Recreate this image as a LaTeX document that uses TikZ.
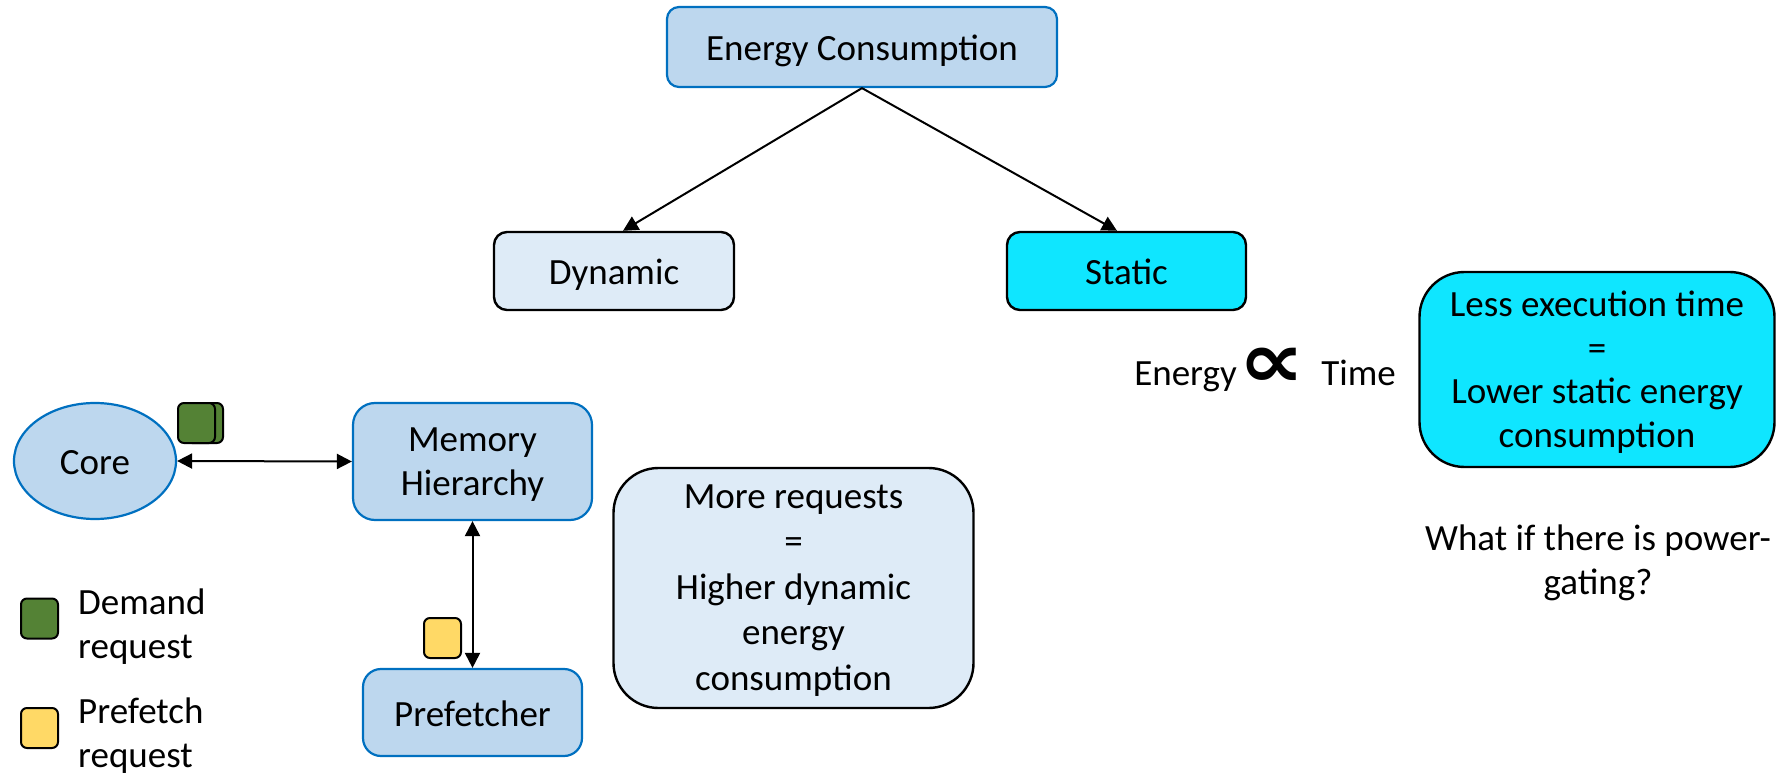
\documentclass[tikz,border=0pt]{standalone}
\usepackage{fontspec}
\setmainfont{Carlito}
\newfontfamily\symfont{DejaVu Sans}
\usetikzlibrary{arrows.meta,shapes.geometric,calc}

\definecolor{nodeblue}{RGB}{189,215,238}
\definecolor{edgeblue}{RGB}{0,112,192}
\definecolor{paleblue}{RGB}{222,235,247}
\definecolor{brightcyan}{RGB}{15,230,255}
\definecolor{reqgreen}{RGB}{84,130,53}
\definecolor{reqyellow}{RGB}{255,217,102}

\begin{document}
\begin{tikzpicture}[x=1pt,y=-1pt,
  txt/.style={font=\fontsize{37}{44}\selectfont, inner sep=0pt, align=center},
  oneline/.style={text height=27pt, text depth=0pt},
  bluebox/.style={txt, draw=edgeblue, fill=nodeblue, line width=2.2pt},
  palebox/.style={txt, draw=black, fill=paleblue, line width=2.4pt},
  cyanbox/.style={txt, draw=black, fill=brightcyan, line width=2.4pt},
  reqbox/.style={draw=black, line width=2pt, rounded corners=6pt,
                 minimum width=37pt, minimum height=40pt, inner sep=0pt},
  headtip/.tip={Triangle[length=15pt,width=15pt]},
  link/.style={line width=2pt, -headtip},
  biline/.style={line width=2pt, headtip-headtip}
]
\useasboundingbox (0,0) rectangle (1777,775);
\fill[white] (0,0) rectangle (1777,775);

% energy split into its two parts
\node[bluebox, oneline, rounded corners=12pt, minimum width=390pt, minimum height=80pt]
  (ec) at (862,47) {Energy Consumption};
\node[palebox, oneline, rounded corners=13pt, minimum width=240pt, minimum height=78pt]
  (dyn) at (614,271) {Dynamic};
\node[cyanbox, oneline, rounded corners=13pt, minimum width=239pt, minimum height=78pt]
  (sta) at (1126.5,271) {Static};
\draw[link] (ec.south) -- ([xshift=9pt]dyn.north);
\draw[link] (ec.south) -- ([xshift=-9.5pt]sta.north);

% core, memory hierarchy and prefetcher
\node[bluebox, oneline, ellipse, minimum width=162pt, minimum height=116pt]
  (core) at (95,461) {Core};
\node[bluebox, text height=67pt, text depth=0pt, rounded corners=22pt,
      minimum width=239pt, minimum height=117pt]
  (mem) at (472.5,461.5) {Memory\\Hierarchy};
\node[bluebox, oneline, rounded corners=18pt, minimum width=219pt, minimum height=87pt]
  (pre) at (472.5,712.5) {Prefetcher};
\draw[biline] (core.east) -- (mem.west);
\draw[biline] (mem.south) -- (pre.north);

% requests in flight
\node[reqbox, fill=reqgreen] (dback) at (204.5,423) {};
\node[reqbox, fill=reqgreen] (dfront) at (196.5,423) {};
\node[reqbox, fill=reqyellow] (pfreq) at (442.5,638) {};

% legend
\node[reqbox, fill=reqgreen] (lgreen) at (39.5,618.5) {};
\node[reqbox, fill=reqyellow] (lyellow) at (39.5,728) {};
\node[txt, align=left, anchor=base west] (ldemand) at (78,658) {Demand\\request};
\node[txt, align=left, anchor=base west] (lprefetch) at (78,767) {Prefetch\\request};

% dynamic energy note
\node[palebox, font=\fontsize{37}{45.5}\selectfont, text height=204pt, text depth=0pt,
      rounded corners=45pt, minimum width=360pt, minimum height=240pt]
  (more) at (793.5,588) {More requests\\=\\Higher dynamic\\energy\\consumption};

% static energy note
\node[txt, anchor=base] (eword) at (1185.5,385) {Energy};
\node[inner sep=0pt, anchor=base, font=\symfont\bfseries\fontsize{78}{78}\selectfont]
  (prop) at (1271.5,387) {\scalebox{1.2}[1]{∝}};
\node[txt, anchor=base] (tword) at (1358.5,385) {Time};
\node[cyanbox, font=\fontsize{37}{43.5}\selectfont, text height=155pt, text depth=0pt,
      rounded corners=45pt, minimum width=355pt, minimum height=195pt]
  (less) at (1597,369.5) {Less execution time\\=\\Lower static energy\\consumption};
\node[txt, anchor=base] (what) at (1598,594) {What if there is power-\\gating?};
\end{tikzpicture}
\end{document}
